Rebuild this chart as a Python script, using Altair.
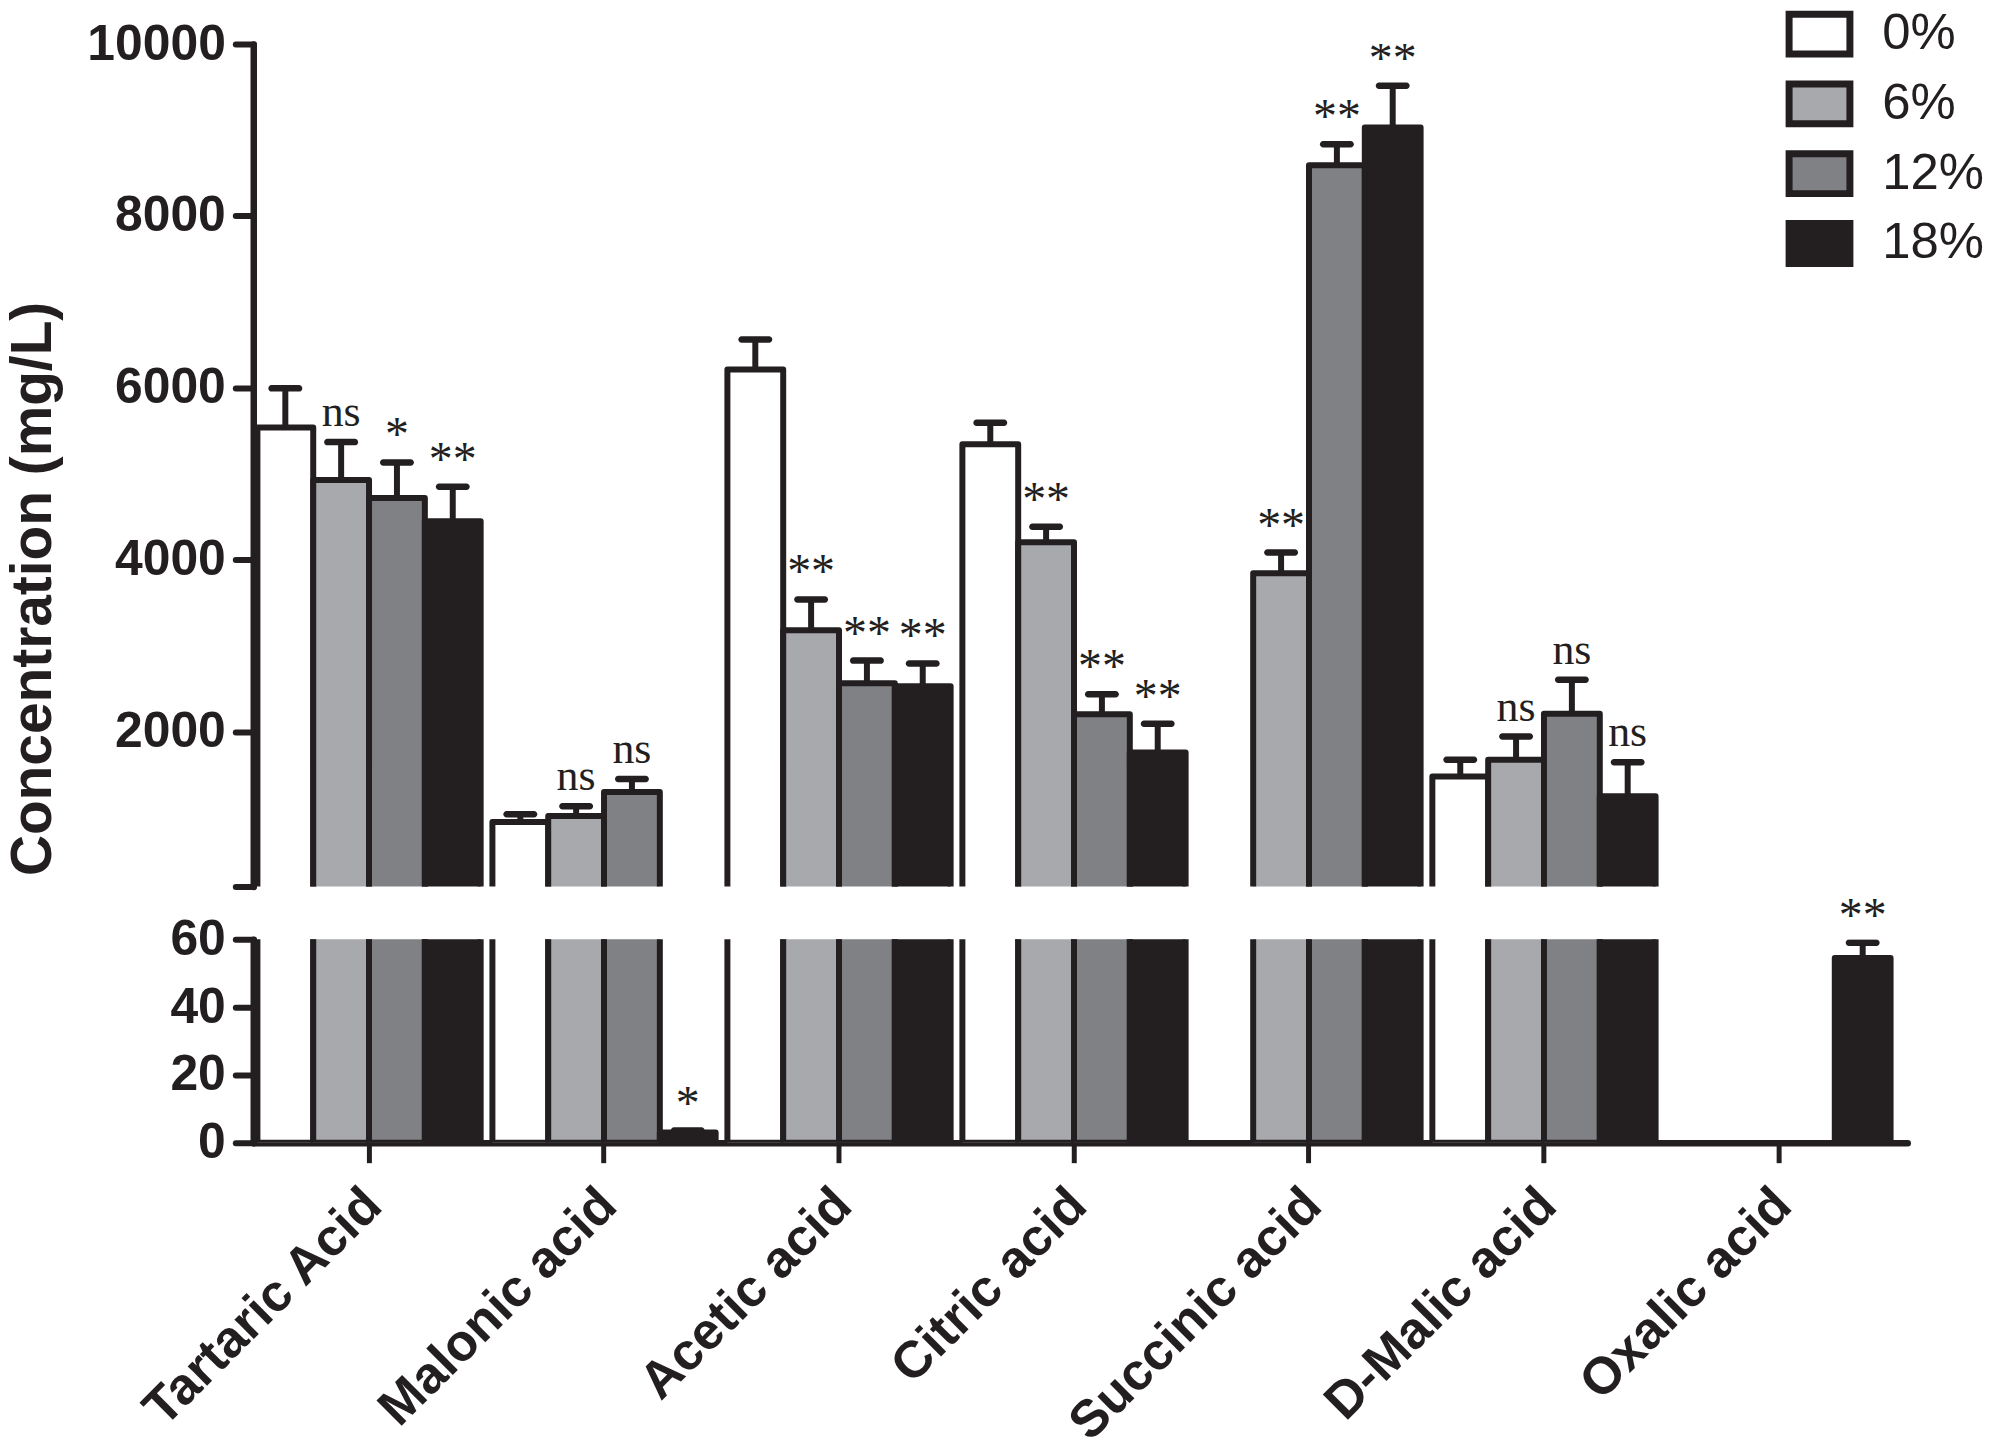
import altair as alt
import pandas as pd

# ---------------- data ----------------
acids = ["Tartaric Acid", "Malonic acid", "Acetic acid", "Citric acid",
         "Succinic acid", "D-Malic acid", "Oxalic acid"]
groups = ["0%", "6%", "12%", "18%"]

mean_0 = [5540, 950, 6215, 5345, 0, 1480, 0]
mean_6 = [4930, 1020, 3180, 4205, 3845, 1675, 0]
mean_12 = [4720, 1300, 2565, 2205, 8590, 2210, 0]
mean_18 = [4450, 3.0, 2530, 1760, 9030, 1250, 54.5]

err_0 = [455, 90, 348, 250, 0, 195, 0]
err_6 = [440, 115, 360, 180, 240, 270, 0]
err_12 = [413, 150, 263, 232, 245, 395, 0]
err_18 = [400, 0.6, 265, 333, 485, 395, 4.5]

sig_0 = ["", "", "", "", "", "", ""]
sig_6 = ["ns", "ns", "**", "**", "**", "ns", ""]
sig_12 = ["*", "ns", "**", "**", "**", "ns", ""]
sig_18 = ["**", "*", "**", "**", "**", "ns", "**"]

colors = ["#ffffff", "#a8a9ad", "#808184", "#231f20"]
upper_ticks = [200, 2000, 4000, 6000, 8000, 10000]
lower_ticks = [0, 20, 40, 60]

rows = []
for g, means, errs, sigs in zip(groups, [mean_0, mean_6, mean_12, mean_18],
                                [err_0, err_6, err_12, err_18],
                                [sig_0, sig_6, sig_12, sig_18]):
    for a, m, e, s in zip(acids, means, errs, sigs):
        rows.append({"acid": a, "group": g, "value": m, "err": e, "sig": s})
df = pd.DataFrame(rows)

INK = "#231f20"
SANS = "Liberation Sans"
SERIF = "Liberation Serif"

W = 1659
H_UP = 845
H_LO = 204

x_scale = alt.Scale(domain=acids, paddingInner=0.05, paddingOuter=0.0443, align=0.2)
off_scale = alt.Scale(domain=groups, paddingInner=0, paddingOuter=0)


def y_axis(values, title=None, label_expr=None):
    kw = dict(values=values, format="d", grid=False, domainColor=INK, domainWidth=6.5,
              domainCap="round", tickColor=INK, tickWidth=6, tickSize=18, tickCap="round",
              labelFont=SANS, labelFontWeight="bold", labelFontSize=50, labelColor=INK,
              labelPadding=10, labelFlush=False, labelOverlap=False)
    if label_expr:
        kw["labelExpr"] = label_expr
    if title:
        kw.update(title=title, titleFont=SANS, titleFontWeight="bold", titleFontSize=57,
                  titleColor=INK, titleAngle=270, titleX=-203, titleY=546,
                  titleBaseline="alphabetic", titleAlign="center")
    else:
        kw["title"] = None
    return alt.Axis(**kw)


legend = alt.Legend(orient="none", legendX=1537, legendY=-44, title=None,
                    symbolType="M-1,-0.656H1V0.656H-1Z", symbolSize=3721,
                    symbolStrokeWidth=7, symbolStrokeColor=INK,
                    labelFont=SANS, labelFontSize=51, labelColor=INK,
                    labelOffset=29, rowPadding=0, padding=0)

x_axis_lower = alt.Axis(title=None, labelAngle=-45, labelAlign="right", labelBaseline="middle",
                        labelFont=SANS, labelFontWeight="bold", labelFontSize=52, labelColor=INK,
                        labelPadding=34, labelOffset=4, labelLimit=0, labelOverlap=False,
                        labelFlush=False, tickSize=20, tickWidth=5, tickColor=INK,
                        domainColor=INK, domainWidth=6.5, domainCap="round")


def panel(y_dom, height, yaxis, xaxis, text_filter, text_clip):
    base = alt.Chart(df).transform_calculate(top="datum.value + datum.err", base0="0")
    ysc = alt.Scale(domain=y_dom, nice=False, zero=False)
    x_enc = alt.X("acid:N", sort=acids, scale=x_scale, axis=xaxis)
    xo = alt.XOffset("group:N", sort=groups, scale=off_scale)

    bars = base.transform_filter("datum.value > 0").mark_bar(
        stroke=INK, strokeWidth=6, strokeJoin="round", clip=True
    ).encode(
        x=x_enc, xOffset=xo,
        y=alt.Y("value:Q", scale=ysc, axis=yaxis, stack=None),
        y2="base0:Q",
        color=alt.Color("group:N", sort=groups, scale=alt.Scale(domain=groups, range=colors),
                        legend=legend),
    )
    rules = base.transform_filter("datum.err > 0").mark_rule(
        color=INK, strokeWidth=6, clip=True
    ).encode(x=x_enc, xOffset=xo, y=alt.Y("value:Q", scale=ysc), y2="top:Q")
    caps = base.transform_filter("datum.err > 0").mark_tick(
        color=INK, opacity=1, thickness=6.5, size=34, cornerRadius=3.2, clip=True,
        orient="horizontal"
    ).encode(x=x_enc, xOffset=xo, y=alt.Y("top:Q", scale=ysc))
    ns = base.transform_filter(text_filter + " && datum.sig == 'ns'").mark_text(
        font=SERIF, fontSize=44, color=INK, baseline="alphabetic", dy=-16, clip=text_clip
    ).encode(x=x_enc, xOffset=xo, y=alt.Y("top:Q", scale=ysc), text="sig:N")
    stars = base.transform_filter(text_filter + " && datum.sig != 'ns' && datum.sig != ''").mark_text(
        font=SERIF, fontSize=48, color=INK, baseline="alphabetic", dy=-12, clip=text_clip
    ).encode(x=x_enc, xOffset=xo, y=alt.Y("top:Q", scale=ysc), text="sig:N")
    return alt.layer(bars, rules, caps, ns, stars).properties(width=W, height=height)


upper = panel([200, 10000], H_UP,
              y_axis(upper_ticks, title="Concentration (mg/L)",
                     label_expr="datum.value < 1000 ? '' : datum.label"),
              None, "datum.value > 200", True)
lower = panel([0, 60], H_LO, y_axis(lower_ticks), x_axis_lower,
              "datum.value > 0 && datum.top < 60", False)

chart = alt.vconcat(upper, lower, spacing=53, bounds="flush").properties(
    padding={"left": 246, "top": 34, "right": 80, "bottom": 1402},
    autosize=alt.AutoSizeParams(type="none"),
).configure_view(stroke=None).configure_axis(grid=False)

chart.save("out.html", embed_options={"renderer": "svg", "actions": False})
